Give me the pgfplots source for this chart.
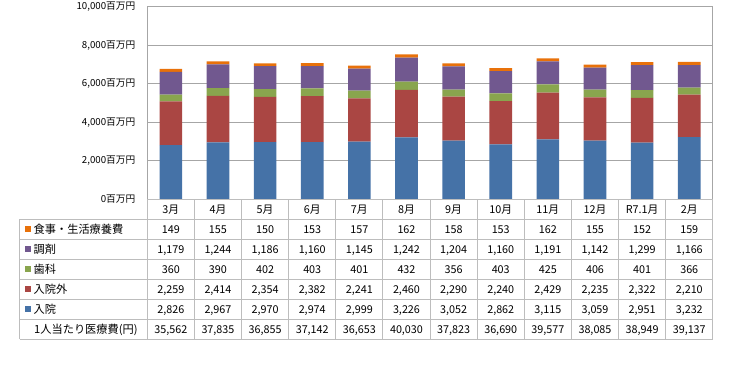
\documentclass[border=0pt]{standalone}
\usepackage{pgfplots}
\pgfplotsset{compat=1.18}
\usepackage{pgfplotstable}
\usepackage{fontspec}
\setmainfont{Noto Sans CJK JP}
\definecolor{cNyuin}{HTML}{4572A7}
\definecolor{cGairai}{HTML}{AA4643}
\definecolor{cShika}{HTML}{89A54E}
\definecolor{cChozai}{HTML}{71588F}
\definecolor{cShokuji}{HTML}{E8710A}
\definecolor{gridgray}{HTML}{A6A6A6}
\definecolor{tgray}{HTML}{BDBDBD}
\pgfkeys{/pgf/number format/.cd,1000 sep={,},assume math mode=true}

\pgfplotstableread{
idx month nyuin gairai shika chozai shokuji per
0  3月    2826 2259 360 1179 149 35562
1  4月    2967 2414 390 1244 155 37835
2  5月    2970 2354 402 1186 150 36855
3  6月    2974 2382 403 1160 153 37142
4  7月    2999 2241 401 1145 157 36653
5  8月    3226 2460 432 1242 162 40030
6  9月    3052 2290 356 1204 158 37823
7  10月   2862 2240 403 1160 153 36690
8  11月   3115 2429 425 1191 162 39577
9  12月   3059 2235 406 1142 155 38085
10 R7.1月 2951 2322 401 1299 152 38949
11 2月    3232 2210 366 1166 159 39137
}\datatable

\begin{document}
\begin{tikzpicture}
\useasboundingbox (0pt,0pt) rectangle (735pt,-367pt);
\begin{axis}[
  at={(147.3pt,-199.5pt)}, anchor=south west,
  scale only axis, width=565.5pt, height=192.8pt,
  xmin=-0.5, xmax=11.5, ymin=0, ymax=10000,
  ybar stacked, bar width=0.48,
  xtick=\empty,
  ytick={0,2000,4000,6000,8000,10000},
  ymajorgrids,
  grid style={color=gridgray, line width=0.9pt},
  axis line style={gridgray, line width=0.9pt},
  major tick style={draw=none},
  scaled y ticks=false,
  yticklabel={\pgfmathprintnumber[fixed,precision=0]{\tick}百万円},
  yticklabel style={font=\fontsize{9.7}{10}\selectfont, xshift=-8.5pt},
  clip=false,
]
\addplot[fill=cNyuin, draw=none] table[x=idx, y=nyuin] {\datatable};
\addplot[fill=cGairai, draw=none] table[x=idx, y=gairai] {\datatable};
\addplot[fill=cShika, draw=none] table[x=idx, y=shika] {\datatable};
\addplot[fill=cChozai, draw=none] table[x=idx, y=chozai] {\datatable};
\addplot[fill=cShokuji, draw=none] table[x=idx, y=shokuji] {\datatable};
\end{axis}
% table grid
\begin{scope}[tgray, line width=1pt]
\foreach \r in {219.3,239.3,259.3,279.3,299.3,319.3,339.3}
  \draw (19.5pt,-\r pt) -- (712.8pt,-\r pt);
\draw (147.3pt,-199.5pt) -- (712.8pt,-199.5pt);
\draw (19.5pt,-219.3pt) -- (19.5pt,-339.3pt);
\foreach \k in {0,...,12}
  \draw ({147.3pt+47.125pt*\k},-199.5pt) -- ({147.3pt+47.125pt*\k},-339.3pt);
\end{scope}
% row labels
\def\rowlab#1#2#3{%
  \fill[#2] (25pt,{-(#1pt)+3pt}) rectangle (31pt,{-(#1pt)-3pt});
  \node[anchor=base west, inner sep=0pt, font=\fontsize{11.2}{12}\selectfont] at (33.5pt,{-(#1pt)-4.2pt}) {#3};}
\rowlab{229.3}{cShokuji}{食事・生活療養費}
\rowlab{249.3}{cChozai}{調剤}
\rowlab{269.3}{cShika}{歯科}
\rowlab{289.3}{cGairai}{入院外}
\rowlab{309.3}{cNyuin}{入院}
\node[anchor=base west, inner sep=0pt, font=\fontsize{11.2}{12}\selectfont] at (34pt,{-329.3pt-4.2pt}) {1人当たり医療費(円)};
% cells
\foreach \i in {0,...,11}{
  \pgfmathsetmacro{\cx}{147.3+47.125*(\i+0.5)}
  \pgfplotstablegetelem{\i}{month}\of\datatable \let\vm\pgfplotsretval
  \node[anchor=base, inner sep=0pt, font=\fontsize{10.8}{12}\selectfont] at (\cx pt,-213.6pt) {\vm};
  \foreach \col/\yy in {shokuji/229.3,chozai/249.3,shika/269.3,gairai/289.3,nyuin/309.3,per/329.3}{
    \pgfplotstablegetelem{\i}{\col}\of\datatable \let\vv\pgfplotsretval
    \node[anchor=base, inner sep=0pt, font=\fontsize{10.8}{12}\selectfont] at (\cx pt,{-\yy pt-4pt}) {\pgfmathprintnumber{\vv}};
  }
}
\end{tikzpicture}
\end{document}
